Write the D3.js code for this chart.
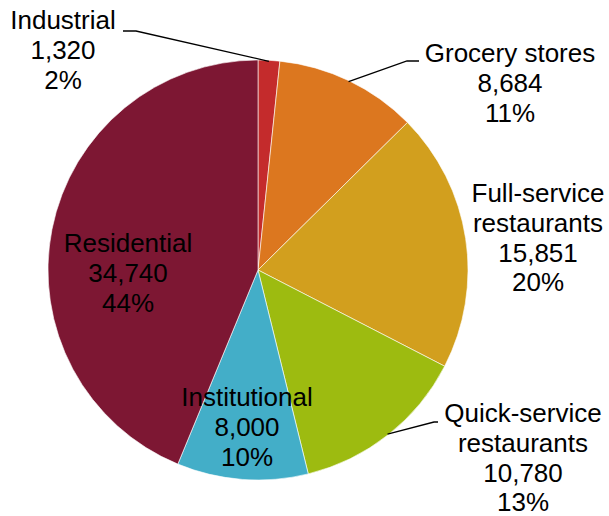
<!DOCTYPE html>
<html>
<head>
<meta charset="utf-8">
<script src="https://cdn.jsdelivr.net/npm/d3@7/dist/d3.min.js"></script>
<style>
  html, body { margin: 0; padding: 0; background: #ffffff; }
  svg { display: block; }
  text { font-family: "Liberation Sans", Arial, sans-serif; fill: #000; }
</style>
</head>
<body>
<svg id="chart" width="609" height="516"></svg>
<script>
// Food waste by sector, clockwise from 12 o'clock
const categories = ["Industrial", "Grocery stores", "Full-service restaurants",
                    "Quick-service restaurants", "Institutional", "Residential"];
const nameLines = [["Industrial"], ["Grocery stores"], ["Full-service", "restaurants"],
                   ["Quick-service", "restaurants"], ["Institutional"], ["Residential"]];
const values = [1320, 8684, 15851, 10780, 8000, 34740];
const percentLabels = ["2%", "11%", "20%", "13%", "10%", "44%"];
const colors = ["#c42b2c", "#dc771f", "#d29f1e", "#9dbb10", "#43aec8", "#7d1733"];

// label layout: text centre x, first baseline y, optional leader kink
const labelPos = [
  { x: 63,  y: 29,  kink: [136, 31], end: [123, 31] },
  { x: 510, y: 62,  kink: [407, 61], end: [419, 61] },
  { x: 538, y: 202 },
  { x: 523, y: 422, kink: [434, 422], end: [438, 422] },
  { x: 247, y: 406 },
  { x: 128, y: 252 }
];

const cx = 258, cy = 270, r = 210;
const fontSize = 26, lineH = 29.8;

const svg = d3.select("#chart");
const g = svg.append("g").attr("transform", `translate(${cx},${cy})`);

const data = categories.map((c, i) => ({ name: c, value: values[i], i }));
const pie = d3.pie().value(d => d.value).sort(null);
const arcs = pie(data);
const arc = d3.arc().innerRadius(0).outerRadius(r);

g.selectAll("path.slice")
  .data(arcs)
  .join("path")
  .attr("class", "slice")
  .attr("d", arc)
  .attr("fill", d => colors[d.data.i])
  .attr("stroke", "#ffffff")
  .attr("stroke-width", 0.6);

// leader lines from slice edge to the outside labels
arcs.forEach(a => {
  const p = labelPos[a.data.i];
  if (!p.kink) return;
  const mid = (a.startAngle + a.endAngle) / 2;
  const sx = cx + (r - 1) * Math.sin(mid);
  const sy = cy - (r - 1) * Math.cos(mid);
  svg.append("polyline")
    .attr("points", [[sx, sy], p.kink, p.end].map(q => q.join(",")).join(" "))
    .attr("fill", "none")
    .attr("stroke", "#000")
    .attr("stroke-width", 1.3);
});

// labels: name lines, value, percentage
const fmt = d3.format(",");
arcs.forEach(a => {
  const i = a.data.i;
  const p = labelPos[i];
  const lines = nameLines[i].concat([fmt(values[i]), percentLabels[i]]);
  const t = svg.append("text")
    .attr("text-anchor", "middle")
    .attr("font-size", fontSize);
  lines.forEach((ln, k) => {
    t.append("tspan").attr("x", p.x).attr("y", p.y + k * lineH).text(ln);
  });
});
</script>
</body>
</html>
